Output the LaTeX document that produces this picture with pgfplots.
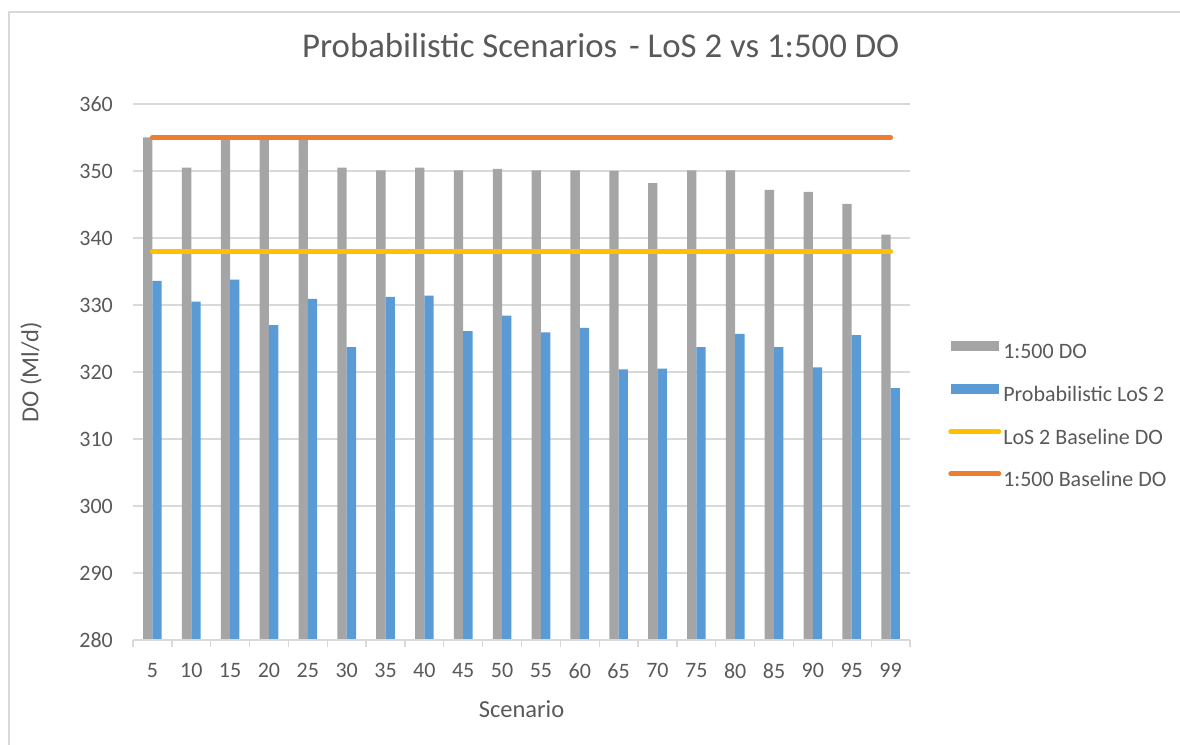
\documentclass[border=0pt]{standalone}
\usepackage{pgfplots}
\pgfplotsset{compat=1.18}
\usepackage{fontspec}
\setmainfont{Carlito}

\definecolor{txtgray}{HTML}{595959}
\definecolor{gridgray}{HTML}{D9D9D9}
\definecolor{dogray}{HTML}{A5A5A5}
\definecolor{losblue}{HTML}{5B9BD5}
\definecolor{losyellow}{HTML}{FFC000}
\definecolor{doorange}{HTML}{ED7D31}

\begin{document}
\begin{tikzpicture}
\useasboundingbox (0,0) rectangle (1180pt,744pt);
% chart area frame
\draw[gridgray, line width=1.5pt] (9pt,-5pt) -- (9pt,732pt) -- (1190pt,732pt);
\begin{axis}[
  at={(133pt,104pt)}, anchor=south west,
  scale only axis, width=777pt, height=536pt,
  xmin=-0.5, xmax=19.5, ymin=280, ymax=360,
  ytick={280,290,...,360},
  xtick={0,...,19},
  xticklabels={5,10,15,20,25,30,35,40,45,50,55,60,65,70,75,80,85,90,95,99},
  minor xtick={-0.5,0.5,...,19.5},
  major tick length=0pt,
  minor tick length=7pt,
  tick align=outside,
  xtick pos=bottom, ytick pos=left,
  minor tick style={gridgray, line width=1.3pt},
  axis line style={draw=none},
  ymajorgrids,
  grid style={gridgray, line width=1.3pt},
  /pgf/number format/assume math mode=true,
  tick label style={font=\fontsize{22pt}{26pt}\selectfont, text=txtgray, inner sep=0pt},
  xticklabel shift=23pt,
  yticklabel shift=20pt,
  title={Probabilistic Scenarios\hspace{4pt} - LoS 2 vs 1:500 DO},
  title style={at={(axis description cs:0.602,1.098)}, anchor=center,
    font=\fontsize{34.8pt}{40pt}\selectfont, text=txtgray, inner sep=0pt},
  xlabel={Scenario},
  xlabel style={at={(axis description cs:0.5,-0.1287)}, anchor=center,
    font=\fontsize{24.5pt}{29pt}\selectfont, text=txtgray, inner sep=0pt},
  ylabel={DO (Ml/d)},
  ylabel style={at={(axis description cs:-0.131,0.5)}, anchor=center,
    font=\fontsize{24.5pt}{29pt}\selectfont, text=txtgray, inner sep=0pt},
  legend cell align=left,
  legend style={at={(axis description cs:1.049,0.418)}, anchor=west,
    draw=none, fill=none, inner sep=0pt, row sep=21.3pt, column sep=2pt,
    font=\fontsize{22pt}{26pt}\selectfont, text=txtgray,
    nodes={inner sep=0pt, text height=16pt, text depth=5pt}},
]
% 1:500 DO
\addplot[ybar, bar width=0.24, bar shift=-0.12, fill=dogray, draw=none,
  legend image code/.code={\fill[dogray] (0pt,2pt) rectangle (48pt,12pt);}]
  coordinates {
  (0,355.0) (1,350.5) (2,354.8) (3,354.7) (4,354.9)
  (5,350.5) (6,350.1) (7,350.5) (8,350.1) (9,350.3)
  (10,350.1) (11,350.1) (12,350.0) (13,348.2) (14,350.1)
  (15,350.1) (16,347.2) (17,346.9) (18,345.1) (19,340.5)};
% Probabilistic LoS 2
\addplot[ybar, bar width=0.24, bar shift=0.12, fill=losblue, draw=none,
  legend image code/.code={\fill[losblue] (0pt,2pt) rectangle (48pt,12pt);}]
  coordinates {
  (0,333.6) (1,330.5) (2,333.8) (3,327.0) (4,330.9)
  (5,323.7) (6,331.2) (7,331.4) (8,326.1) (9,328.4)
  (10,325.9) (11,326.6) (12,320.4) (13,320.5) (14,323.7)
  (15,325.7) (16,323.7) (17,320.7) (18,325.5) (19,317.6)};
% LoS 2 baseline
\addplot[losyellow, line width=5pt, line cap=round,
  legend image code/.code={\draw[losyellow, line width=5pt, line cap=round] (0pt,7pt) -- (48pt,7pt);}]
  coordinates {(0,338) (19,338)};
% 1:500 baseline
\addplot[doorange, line width=5pt, line cap=round,
  legend image code/.code={\draw[doorange, line width=5pt, line cap=round] (0pt,7pt) -- (48pt,7pt);}]
  coordinates {(0,355) (19,355)};
\legend{1:500 DO, Probabilistic LoS 2, LoS 2 Baseline DO, 1:500 Baseline DO}
% category axis line
\draw[gridgray, line width=1.3pt] (rel axis cs:0,0) -- (rel axis cs:1,0);
\end{axis}
\end{tikzpicture}
\end{document}
